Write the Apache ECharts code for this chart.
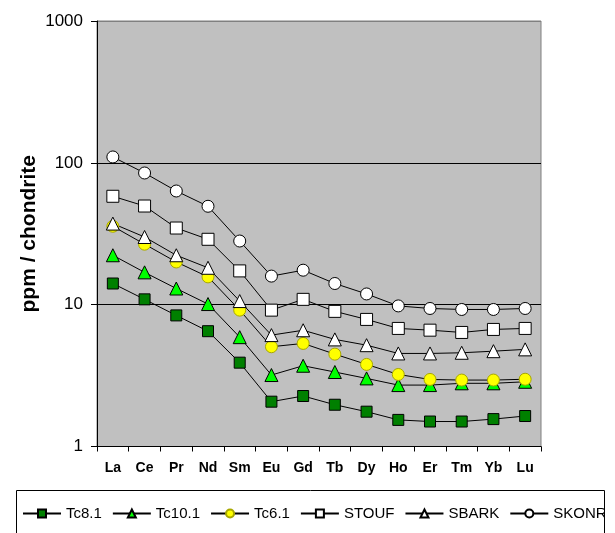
<!DOCTYPE html>
<html><head><meta charset="utf-8">
<script src="https://cdn.jsdelivr.net/npm/echarts@6/dist/echarts.min.js"></script>
<style>html,body{margin:0;padding:0;background:#fff}#c{width:615px;height:533px}</style>
</head><body><div id="c"></div>
<script>
const categories = ['La','Ce','Pr','Nd','Sm','Eu','Gd','Tb','Dy','Ho','Er','Tm','Yb','Lu'];
const yTicks = [1, 10, 100, 1000];
const tc81   = [14.1, 10.9, 8.4, 6.5, 3.9, 2.07, 2.27, 1.97, 1.76, 1.54, 1.50, 1.50, 1.56, 1.64];
const tc101  = [22.3, 16.9, 13.0, 10.1, 5.9, 3.19, 3.71, 3.35, 3.02, 2.71, 2.71, 2.79, 2.79, 2.86];
const tc61   = [35.7, 26.7, 20.0, 15.7, 9.15, 5.05, 5.33, 4.48, 3.79, 3.22, 2.97, 2.94, 2.94, 2.98];
const stouf  = [58.1, 49.6, 34.7, 28.9, 17.3, 9.15, 10.9, 8.97, 7.87, 6.8, 6.61, 6.37, 6.69, 6.8];
const sbark  = [37.3, 30.0, 22.3, 18.2, 10.6, 6.1, 6.6, 5.69, 5.18, 4.53, 4.53, 4.58, 4.7, 4.84];
const skonr  = [110, 84.8, 63.3, 49.4, 28.1, 15.9, 17.5, 14.1, 11.9, 9.8, 9.4, 9.25, 9.25, 9.4];

function mk(name, data, symbol, size, fill, border) {
  return {
    name: name, type: 'line', data: data, symbol: symbol, symbolSize: size,
    lineStyle: {color: '#000', width: 1},
    itemStyle: {color: fill, borderColor: border || '#000', borderWidth: 1},
    emphasis: {disabled: true}, animation: false
  };
}

const chart = echarts.init(document.getElementById('c'), null, {renderer: 'canvas'});
chart.setOption({
  animation: false,
  grid: {left: 97, top: 21, right: 74, bottom: 86.5, show: true,
         backgroundColor: '#C0C0C0', borderColor: '#808080', borderWidth: 1},
  xAxis: {
    type: 'category', data: categories, boundaryGap: true,
    axisLine: {lineStyle: {color: '#000', width: 1}},
    axisTick: {show: true, length: 5, inside: false, lineStyle: {color: '#000'}},
    axisLabel: {fontFamily: 'Liberation Sans, Arial', fontWeight: 'bold', fontSize: 14, color: '#000', margin: 15, interval: 0},
    splitLine: {show: false}
  },
  yAxis: {
    type: 'log', logBase: 10, min: yTicks[0], max: yTicks[yTicks.length - 1],
    name: 'ppm / chondrite', nameLocation: 'middle', nameGap: 57, nameMoveOverlap: false,
    nameTextStyle: {fontFamily: 'Liberation Sans, Arial', fontWeight: 'bold', fontSize: 21, color: '#000'},
    axisLine: {show: true, lineStyle: {color: '#000', width: 1}},
    axisTick: {show: true, length: 6, lineStyle: {color: '#000'}},
    minorTick: {show: false},
    axisLabel: {fontFamily: 'Liberation Sans, Arial', fontSize: 17, color: '#000', margin: 14,
                formatter: function (v) { return String(v); }},
    splitLine: {show: true, lineStyle: {color: ['#000', '#000', '#000', '#808080'], width: 1}}
  },
  legend: {
    left: 22, top: 506, padding: 0, orient: 'horizontal', itemWidth: 38, itemHeight: 10, itemGap: 10,
    textStyle: {fontFamily: 'Liberation Sans, Arial', fontSize: 15, color: '#000'},
    data: ['Tc8.1', 'Tc10.1', 'Tc6.1', 'STOUF', 'SBARK', 'SKONR'],
    selectedMode: false
  },
  graphic: [
    {type: 'rect', z: 100, shape: {x: 605, y: 491, width: 20, height: 50}, style: {fill: '#fff', stroke: null}},
    {type: 'rect', z: 101, shape: {x: 16.5, y: 490.5, width: 588, height: 60}, style: {fill: null, stroke: '#000', lineWidth: 1}}
  ],
  series: [
    mk('Tc8.1', tc81, 'rect', 11, '#008000'),
    mk('Tc10.1', tc101, 'triangle', 13, '#00FF00'),
    mk('Tc6.1', tc61, 'circle', 12, '#FFFF00', '#A8A800'),
    mk('STOUF', stouf, 'rect', 12, '#FFFFFF'),
    mk('SBARK', sbark, 'triangle', 13, '#FFFFFF'),
    mk('SKONR', skonr, 'circle', 12, '#FFFFFF')
  ]
});
</script></body></html>
